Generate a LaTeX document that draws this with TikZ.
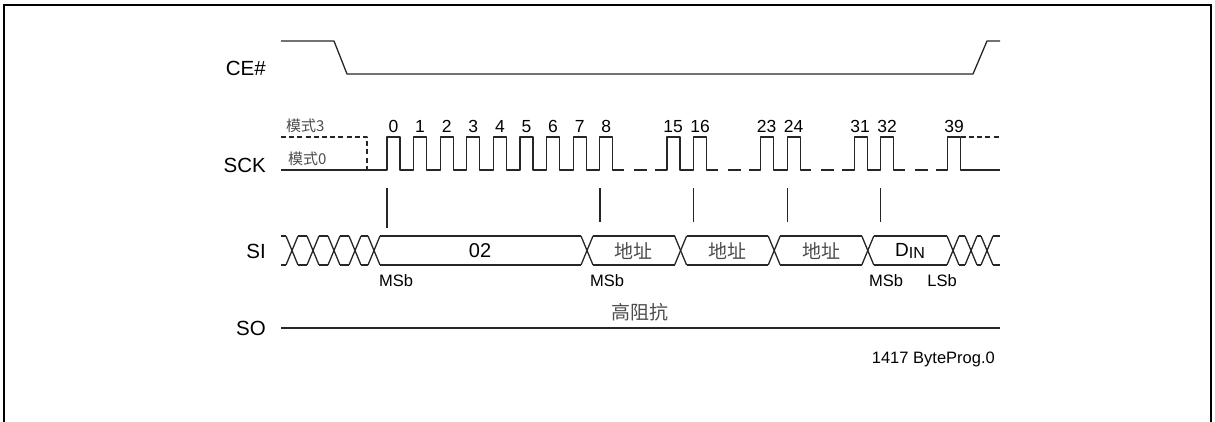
\documentclass[tikz,border=0pt]{standalone}
\usepackage{fontspec}
\setmainfont{Liberation Sans}
\newfontfamily\cjk{Noto Sans CJK SC}
\usetikzlibrary{positioning}
\colorlet{SigInk}{black!85}

\begin{document}
\begin{tikzpicture}[x=1pt,y=-1pt,
  sig/.style={draw=SigInk,line width=1.3pt,line join=round},
  sigdash/.style={sig,dash pattern=on 5pt off 3.2pt},
  signame/.style={anchor=east,inner sep=0pt,font=\fontsize{20.5}{20.5}\selectfont},
  cnt/.style={anchor=base,inner sep=0pt,font=\fontsize{17.5}{17.5}\selectfont},
  bit/.style={anchor=base,inner sep=0pt,font=\fontsize{16.5}{16.5}\selectfont},
  cn/.style={inner sep=0pt,text=black!70,font=\cjk\fontsize{19}{19}\selectfont},
  mode/.style={anchor=base west,inner sep=0pt,text=black!70,font=\cjk\fontsize{15}{15}\selectfont}]
  \useasboundingbox (0,0) rectangle (1215,422);
  % frame
  \draw[line width=2pt] (4,422) -- (4,5) -- (1211,5) -- (1211,422);

  % signal names
  \node[signame] (CE)  at (266,68)  {CE\#};
  \node[signame] (SCK) at (266,165) {SCK};
  \node[signame] (SI)  at (266,251) {SI};
  \node[signame] (SO)  at (266,328) {SO};

  % CE#
  \draw[sig] (281,41) -- (334,41) -- (347,74) -- (973,74) -- (987,41) -- (1000,41);

  % SCK, mode 3 / mode 0
  \draw[sigdash] (281,137) -- (367,137) -- (367,170);
  \node[mode] (m3) at (286,132) {模式3};
  \node[mode] (m0) at (288,165) {模式0};
  \draw[sig] (281,170)
    \foreach \k in {0,...,8}{ -- ({387+26.6*\k},170) |- ({400+26.6*\k},137) -- ({400+26.6*\k},170)}
    -- (624,170);
  \foreach \k in {0,...,8}
    \node[cnt] (c\k) at ({393.5+26.6*\k},133) {\k};
  \foreach \g/\a/\b in {0/15/16,1/23/24,2/31/32}{
    \pgfmathsetmacro\bx{600+93.6*\g}
    \draw[sig] ({\bx+34},170) -- ({\bx+47},170);
    \draw[sig] ({\bx+55},170) -- ({\bx+67},170) |- ({\bx+80},137) -- ({\bx+80},170)
      -- ({\bx+93.6},170) |- ({\bx+106.6},137) -- ({\bx+106.6},170) -- ({\bx+117.6},170);
    \node[cnt] (c\a) at ({\bx+73},133) {\a};
    \node[cnt] (c\b) at ({\bx+100},133) {\b};
  }
  \draw[sig] (914.8,170) -- (927.8,170);
  \draw[sig] (935.8,170) -- (947.8,170) |- (960.8,137) -- (960.8,170) -- (1000,170);
  \draw[sigdash] (960.8,137) -- (1000,137);
  \node[cnt] (c39) at (954,133) {39};

  % sample marks
  \draw[sig] (387,188) -- (387,228);
  \foreach \g in {0,...,3}
    \draw[sig] ({600+93.6*\g},188) -- ({600+93.6*\g},222);

  % SI bus
  \foreach \a/\b in {281/286,298/307,319/328,340/349,361/368,380/581,593/674.6,
                     686.6/768.2,780.2/861.8,873.8/947,959/965,977/981,993/1000}{
    \draw[sig] (\a,236) -- (\b,236);
    \draw[sig] (\a,265) -- (\b,265);
  }
  \foreach \t in {292,313,334,355,374,587,680.6,774.2,867.8,953,971,987}{
    \draw[sig] ({\t-6},236) -- ({\t+6},265);
    \draw[sig] ({\t-6},265) -- ({\t+6},236);
  }
  \node[font=\fontsize{20}{20}\selectfont] (op) at (480,251) {02};
  \node[cn] (ad1) at (633.8,251) {地址};
  \node[cn] (ad2) at (727.4,251) {地址};
  \node[cn] (ad3) at (821,251) {地址};
  \node[font=\fontsize{19}{19}\selectfont] (din) at (910,251)
    {D\raisebox{-2.5pt}{\fontsize{16}{16}\selectfont IN}};
  \node[bit] (msb1) at (396,286) {MSb};
  \node[bit] (msb2) at (607,286) {MSb};
  \node[bit] (msb3) at (886,286) {MSb};
  \node[bit] (lsb)  at (942,286) {LSb};

  % SO
  \draw[sig] (281,328) -- (1000,328);
  \node[cn] (hiz) at (640,312) {高阻抗};
  \node[anchor=base east,inner sep=0pt,font=\fontsize{16.5}{16.5}\selectfont] (tag) at (995,363)
    {1417 ByteProg.0};
\end{tikzpicture}
\end{document}
